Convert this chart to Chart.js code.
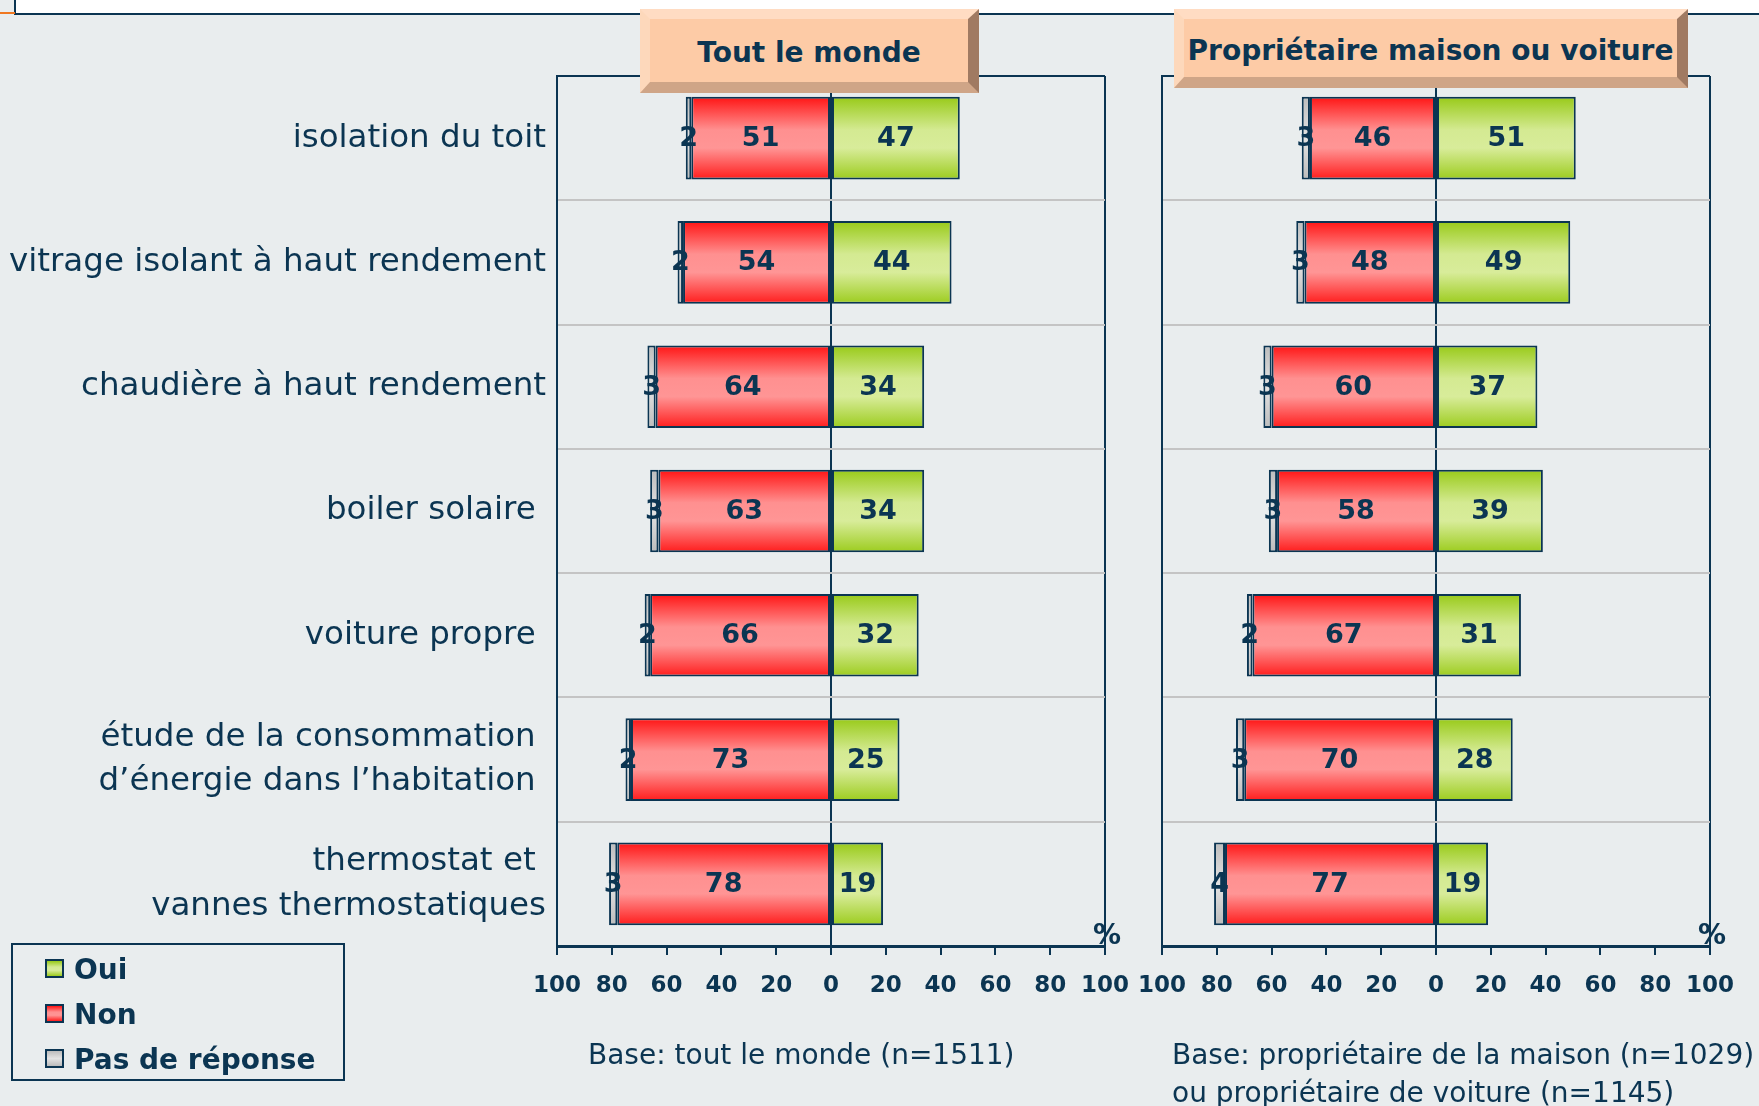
<!DOCTYPE html>
<html>
<head>
<meta charset="utf-8">
<script src="https://cdn.jsdelivr.net/npm/chart.js@4.4.1/dist/chart.umd.min.js"></script>
<style>
  html, body { margin: 0; padding: 0; background: #e9edee; }
  body { width: 1759px; height: 1106px; overflow: hidden; position: relative;
         font-family: 'DejaVu Sans', sans-serif; color: #0b3552; }
  canvas { position: absolute; top: 0; }
  #leftChart { left: 0; }
  #rightChart { left: 1121px; }
  #topBox { position: absolute; left: 14px; top: -2px; width: 1760px; height: 15px;
            background: #fff; border-left: 2px solid #0b3552; border-bottom: 2px solid #0b3552; }
  #orange { position: absolute; left: 0; top: 12px; width: 15px; height: 2px; background: #f07820; }
  .title { position: absolute; box-sizing: border-box; background: #fdcba6;
           border-style: solid; border-width: 10px 11px 11px 10px;
           border-color: #ffdcc3 #a07a62 #cfa587 #fdd8bb; padding-top: 4px;
           font-weight: bold; font-size: 28px; display: flex; align-items: center;
           justify-content: center; white-space: nowrap; }
  #legend { position: absolute; left: 11px; top: 943px; width: 334px; height: 138px;
            box-sizing: border-box; border: 2px solid #0b3552; }
  .item { position: absolute; left: 32px; font-weight: bold; font-size: 28px; line-height: 34px; }
  .item span { display: inline-block; width: 15px; height: 15px; border: 2px solid #0b3552;
               margin-right: 10px; vertical-align: 1px; }
  .note { position: absolute; font-size: 28px; line-height: 38px; white-space: nowrap; }
</style>
</head>
<body>
<div id="topBox"></div>
<div id="orange"></div>
<canvas id="leftChart" width="1146" height="1106"></canvas>
<canvas id="rightChart" width="638" height="1106"></canvas>
<div class="title" style="left:640px;top:9px;width:339px;height:84px;">Tout le monde</div>
<div class="title" style="left:1174px;top:9px;width:514px;height:79px;">Propriétaire maison ou voiture</div>
<div id="legend"></div>
<div class="note" style="left:588px;top:1036px;">Base: tout le monde (n=1511)</div>
<div class="note" style="left:1172px;top:1036px;">Base: propriétaire de la maison (n=1029)<br>ou propriétaire de voiture (n=1145)</div>
<script>
const NAVY = '#0b3552';
const FONT = 'DejaVu Sans';

const categories = [
  'isolation du toit',
  'vitrage isolant à haut rendement',
  'chaudière à haut rendement',
  'boiler solaire ',
  'voiture propre ',
  ['étude de la consommation ', 'd’énergie dans l’habitation '],
  ['thermostat et ', 'vannes thermostatiques']
];
const seriesNames = ['Oui', 'Non', 'Pas de réponse'];

// Tout le monde
const allOui = [47, 44, 34, 34, 32, 25, 19];
const allNon = [51, 54, 64, 63, 66, 73, 78];
const allNr  = [2, 2, 3, 3, 2, 2, 3];

// Propriétaire maison ou voiture
const ownOui = [51, 49, 37, 39, 31, 28, 19];
const ownNon = [46, 48, 60, 58, 67, 70, 77];
const ownNr  = [3, 3, 3, 3, 2, 3, 4];

const BAR_PCT = 0.665;

const greenStops = [[0, '#98ca18'], [0.4, '#d4ea92'], [0.62, '#d8ec9a'], [1, '#9ccc1e']];
const redStops   = [[0, '#ff1414'], [0.4, '#ff9090'], [0.62, '#ff9595'], [1, '#ff1c1c']];
const greyStops  = [[0, '#bcbcbc'], [0.5, '#e3e3e3'], [1, '#bcbcbc']];

function barFill(stops) {
  return function (c) {
    const chart = c.chart;
    const y = chart.scales.y;
    if (!chart.chartArea || !y || c.dataIndex === undefined) return stops[1][1];
    const yc = y.getPixelForValue(c.dataIndex);
    const h = (y.height / categories.length) * BAR_PCT;
    const g = chart.ctx.createLinearGradient(0, yc - h / 2, 0, yc + h / 2);
    stops.forEach(s => g.addColorStop(s[0], s[1]));
    return g;
  };
}

// numbers on bars + the % sign
const valueLabels = {
  id: 'valueLabels',
  afterDatasetsDraw(chart) {
    const ctx = chart.ctx;
    ctx.save();
    ctx.fillStyle = NAVY;
    ctx.textAlign = 'center';
    ctx.textBaseline = 'middle';
    ctx.font = 'bold 27px "' + FONT + '"';
    chart.data.datasets.forEach((ds, di) => {
      chart.getDatasetMeta(di).data.forEach((bar, i) => {
        ctx.fillText(Math.abs(ds.data[i]), (bar.x + bar.base) / 2, bar.y + 1);
      });
    });
    ctx.font = 'bold 28px "' + FONT + '"';
    ctx.fillText('%', chart.chartArea.right + 2, chart.chartArea.bottom - 9);
    ctx.restore();
  }
};

function makeChart(id, oui, non, nr, showLabels, axisWidth, padRight) {
  const ds = (label, data, stops) => ({
    label: label,
    data: data,
    backgroundColor: barFill(stops),
    borderColor: NAVY,
    borderWidth: 2,
    borderSkipped: false,
    categoryPercentage: 1,
    barPercentage: BAR_PCT
  });
  return new Chart(document.getElementById(id), {
    type: 'bar',
    data: {
      labels: categories,
      datasets: [
        ds(seriesNames[1], non.map(v => -v), redStops),
        ds(seriesNames[2], nr.map(v => -v), greyStops),
        ds(seriesNames[0], oui, greenStops)
      ]
    },
    options: {
      indexAxis: 'y',
      responsive: false,
      animation: false,
      layout: { padding: { left: 0, top: 76, right: padRight, bottom: 0 } },
      plugins: { legend: { display: false }, tooltip: { enabled: false } },
      scales: {
        x: {
          stacked: true,
          min: -100,
          max: 100,
          ticks: {
            stepSize: 20,
            autoSkip: false,
            maxRotation: 0,
            padding: 17,
            color: NAVY,
            font: { family: FONT, weight: 'bold', size: 23 },
            callback: v => Math.abs(v)
          },
          grid: {
            color: c => (c.tick && [-100, 0, 100].includes(c.tick.value)) ? NAVY : 'rgba(0,0,0,0)',
            lineWidth: 2,
            tickLength: 9,
            tickColor: NAVY,
            tickWidth: 2
          },
          border: { color: NAVY, width: 3 },
          afterFit: s => { s.height = 160; }
        },
        y: {
          stacked: true,
          ticks: {
            display: showLabels,
            autoSkip: false,
            padding: 11,
            color: NAVY,
            font: { family: FONT, size: 32.5, lineHeight: 1.38 }
          },
          grid: {
            offset: true,
            drawTicks: false,
            color: c => c.index === 0 ? NAVY : '#c4c4c4',
            lineWidth: 2
          },
          border: { color: NAVY, width: 2 },
          afterFit: s => { s.width = axisWidth; }
        }
      }
    },
    plugins: [valueLabels]
  });
}

makeChart('leftChart', allOui, allNon, allNr, true, 557, 0);
makeChart('rightChart', ownOui, ownNon, ownNr, false, 41, 49);

// legend box
const legendStops = [greenStops, redStops, greyStops];
const legend = document.getElementById('legend');
seriesNames.forEach((name, i) => {
  const item = document.createElement('div');
  item.className = 'item';
  item.style.top = (8 + i * 45) + 'px';
  const sw = document.createElement('span');
  sw.style.background = 'linear-gradient(' + legendStops[i].map(s => s[1] + ' ' + (s[0] * 100) + '%').join(',') + ')';
  item.appendChild(sw);
  item.appendChild(document.createTextNode(name));
  legend.appendChild(item);
});
</script>
</body>
</html>
